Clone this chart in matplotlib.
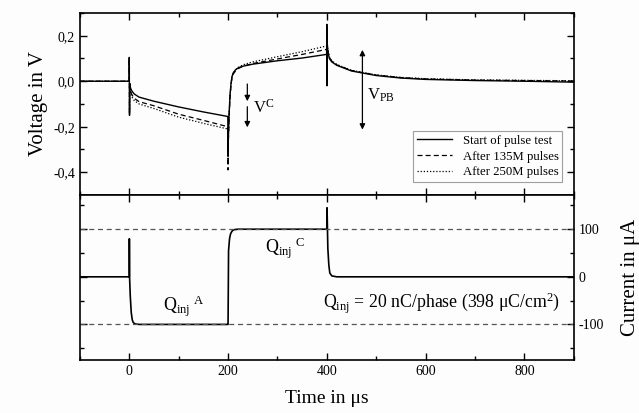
import matplotlib.pyplot as plt
from matplotlib.ticker import MultipleLocator, FuncFormatter

plt.rcParams['font.family'] = ['Liberation Serif', 'DejaVu Serif']
plt.rcParams['mathtext.fontset'] = 'custom'
plt.rcParams['mathtext.rm'] = 'Liberation Serif'
plt.rcParams['mathtext.it'] = 'Liberation Serif'
plt.rcParams['axes.unicode_minus'] = False

# voltage traces (time in us, voltage in V)
t_start = [-100, 0, 0.01, 0.5, 1, 2, 3, 5, 10, 20, 50, 100, 150, 199.5, 200, 200.5, 202, 204, 206,
           208, 210, 215, 220, 230, 250, 300, 350, 399.5, 400, 400.3, 401, 403, 405, 410, 420,
           450, 500, 550, 600, 700, 800, 900]
v_start = [0, 0, 0.105, -0.15, -0.01, -0.025, -0.032, -0.042, -0.056, -0.07, -0.088, -0.113, -0.135,
           -0.155, -0.33, -0.25, -0.15, -0.06, -0.01, 0.02, 0.035, 0.05, 0.058, 0.066, 0.075, 0.09,
           0.102, 0.118, 0.24, -0.02, 0.15, 0.12, 0.1, 0.085, 0.07, 0.045, 0.025, 0.014, 0.008,
           0.003, 0.0, -0.004]

t_135 = [-100, 0, 0.01, 0.5, 1, 2, 3, 5, 10, 20, 50, 100, 150, 199.5, 200, 200.5, 202, 204, 206,
         208, 210, 215, 220, 230, 250, 300, 350, 399.5, 400, 400.3, 401, 403, 405, 410, 420,
         450, 500, 550, 600, 700, 800, 900]
v_135 = [0, 0, 0.1, -0.14, -0.015, -0.035, -0.045, -0.058, -0.075, -0.09, -0.108, -0.145, -0.172,
         -0.2, -0.39, -0.28, -0.16, -0.07, -0.015, 0.015, 0.03, 0.045, 0.055, 0.066, 0.078, 0.098,
         0.118, 0.14, 0.25, -0.01, 0.16, 0.125, 0.105, 0.088, 0.072, 0.047, 0.027, 0.016, 0.01,
         0.005, 0.003, 0.001]

t_250 = [-100, 0, 0.01, 0.5, 1, 2, 3, 5, 10, 20, 50, 100, 150, 199.5, 200, 200.5, 202, 204, 206,
         208, 210, 215, 220, 230, 250, 300, 350, 399.5, 400, 400.3, 401, 403, 405, 410, 420,
         450, 500, 550, 600, 700, 800, 900]
v_250 = [0, 0, 0.1, -0.14, -0.02, -0.04, -0.052, -0.068, -0.085, -0.1, -0.12, -0.158, -0.185,
         -0.21, -0.36, -0.27, -0.15, -0.065, -0.01, 0.02, 0.035, 0.05, 0.06, 0.072, 0.085, 0.108,
         0.13, 0.155, 0.25, -0.01, 0.165, 0.13, 0.108, 0.09, 0.074, 0.048, 0.028, 0.017, 0.011,
         0.006, 0.004, 0.002]

# current trace (uA)
t_cur = [-100, 0, 0.2, 0.6, 2, 4, 6, 8, 12, 20, 199.5, 200, 201, 203, 205, 208, 212, 220,
         399.5, 400, 400.4, 402, 404, 406, 410, 420, 900]
i_cur = [0, 0, 80, 0, -40, -75, -90, -96, -99, -100, -100, -100, 55, 80, 90, 96, 99, 100,
         100, 100, 145, 60, 25, 8, 2, 0, 0]
i_limits = [100, -100]

labels = ['Start of pulse test', 'After 135M pulses', 'After 250M pulses']

fig = plt.figure(figsize=(6.39, 4.13), dpi=100)
fig.patch.set_facecolor('#fdfdfd')
ax1 = fig.add_axes([0.125, 0.528, 0.773, 0.4405])
ax2 = fig.add_axes([0.125, 0.128, 0.773, 0.400], sharex=ax1)

ax1.plot(t_start, v_start, color='black', lw=1.0, label=labels[0])
ax1.plot(t_135, v_135, color='black', lw=0.9, dashes=(4, 2.5), label=labels[1])
ax1.plot(t_250, v_250, color='black', lw=0.9, dashes=(1, 1.5), label=labels[2])

ax1.set_xlim(-100, 900)
ax1.set_ylim(-0.5, 0.3)
ax1.yaxis.set_major_locator(MultipleLocator(0.2))
ax1.yaxis.set_minor_locator(MultipleLocator(0.1))
ax1.yaxis.set_major_formatter(FuncFormatter(lambda v, p: ('%.1f' % v).replace('.', ',').replace('-0,0', '0,0')))
ax1.set_ylabel('Voltage in V', fontsize=15)

# V^C arrow
ax1.annotate('', xy=(239, -0.1), xytext=(239, 0.0),
             arrowprops=dict(arrowstyle='-|>', color='black', lw=0.9, mutation_scale=8))
ax1.annotate('', xy=(239, -0.215), xytext=(239, -0.1),
             arrowprops=dict(arrowstyle='-|>', color='black', lw=0.9, mutation_scale=8))
ax1.text(250, -0.115, r'V$^{\mathrm{C}}$', fontsize=12, va='center')
# V_PB arrow
ax1.annotate('', xy=(472, 0.15), xytext=(472, -0.225),
             arrowprops=dict(arrowstyle='<|-|>', color='black', lw=0.9, mutation_scale=8))
ax1.text(482, -0.06, r'V$_{\mathrm{PB}}$', fontsize=12, va='center')

leg = ax1.legend(loc='lower right', fontsize=9.2, frameon=True, fancybox=False,
                 edgecolor='#888888', handlelength=2.8, borderpad=0.3, labelspacing=0.3,
                 bbox_to_anchor=(0.99, 0.035))
leg.get_frame().set_linewidth(0.8)

ax2.plot(t_cur, i_cur, color='black', lw=1.2)
for lim in i_limits:
    ax2.axhline(lim, color='#555555', lw=0.9, dashes=(4, 3))
ax2.set_ylim(-175, 172)
ax2.yaxis.set_major_locator(MultipleLocator(100))
ax2.yaxis.set_minor_locator(MultipleLocator(50))
ax2.yaxis.tick_right()
ax2.yaxis.set_label_position('right')
ax2.set_ylabel('Current in \u03bcA', fontsize=15, labelpad=12)
ax2.set_xlabel('Time in \u03bcs', fontsize=14, labelpad=9)
ax2.xaxis.set_major_locator(MultipleLocator(200))
ax2.xaxis.set_minor_locator(MultipleLocator(100))

ax2.text(68, -62, r'Q$_{\mathrm{inj}}$$^{\ \mathrm{A}}$', fontsize=13, va='center')
ax2.text(275, 60, r'Q$_{\mathrm{inj}}$$^{\ \mathrm{C}}$', fontsize=13, va='center')
ax2.text(393, -55, r'Q$_{\mathrm{inj}}$ = 20 nC/phase (398 $\mu$C/cm$^2$)', fontsize=12.8, va='center')

for ax in (ax1, ax2):
    ax.set_facecolor('#fdfdfd')
    for s in ax.spines.values():
        s.set_linewidth(1.2)
    ax.tick_params(which='both', direction='in', top=True, bottom=True, left=True, right=True,
                   labelsize=10, width=1.0)
    ax.tick_params(which='major', length=5)
    ax.tick_params(which='minor', length=3)
ax1.tick_params(labelbottom=False)
ax2.tick_params(labelleft=False, labelright=True)

fig.savefig('out.png', dpi=100, facecolor=fig.get_facecolor())
